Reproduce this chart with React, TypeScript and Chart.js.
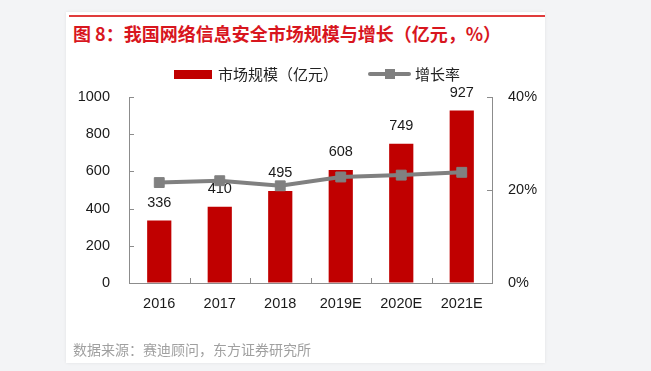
import React, { useEffect, useRef } from "react";
import { Chart, registerables } from "chart.js";

Chart.register(...registerables);

const categories = ["2016", "2017", "2018", "2019E", "2020E", "2021E"];
const marketSize = [336, 410, 495, 608, 749, 927];
const growthRate = [21.6, 22.0, 20.9, 22.8, 23.2, 23.8];
const leftTicks = [0, 200, 400, 600, 800, 1000];
const rightTicks = [0, 20, 40];

const titleText = "图 8：我国网络信息安全市场规模与增长（亿元，%）";
const barLabel = "市场规模（亿元）";
const lineLabel = "增长率";
const sourceText = "数据来源：赛迪顾问，东方证券研究所";

const BAR_COLOR = "#c00000";
const LINE_COLOR = "#808080";
const AXIS_COLOR = "#8c8c8c";
const NUM_FONT = "'Liberation Sans', Arial, sans-serif";
const CJK_FONT = "'Noto Sans CJK SC', 'Noto Sans', sans-serif";
const NUM_SIZE = 14.5;

const CW = 479;
const CH = 351;

export default function App() {
  const ref = useRef<HTMLCanvasElement | null>(null);

  useEffect(() => {
    const canvas = ref.current;
    if (!canvas) return;

    const valueLabels = {
      id: "valueLabels",
      afterDatasetDraw(chart: any, args: any) {
        if (args.index !== 1) return;
        const ctx = chart.ctx;
        const meta = chart.getDatasetMeta(1);
        ctx.save();
        ctx.font = `${NUM_SIZE}px ${NUM_FONT}`;
        ctx.fillStyle = "#1a1a1a";
        ctx.textAlign = "center";
        ctx.textBaseline = "middle";
        meta.data.forEach((el: any, i: number) => {
          ctx.fillText(String(marketSize[i]), el.x, el.y - 18);
        });
        ctx.restore();
      },
    };

    const innerTicks = {
      id: "innerTicks",
      afterDraw(chart: any) {
        const ctx = chart.ctx;
        const { left, right, bottom } = chart.chartArea;
        const y = chart.scales.y;
        const y1 = chart.scales.y1;
        const n = categories.length;
        ctx.save();
        ctx.strokeStyle = AXIS_COLOR;
        ctx.lineWidth = 1;
        ctx.beginPath();
        leftTicks.forEach((v) => {
          const py = Math.round(y.getPixelForValue(v)) + 0.5;
          ctx.moveTo(left, py);
          ctx.lineTo(left + 5, py);
        });
        rightTicks.forEach((v) => {
          const py = Math.round(y1.getPixelForValue(v)) + 0.5;
          ctx.moveTo(right - 5, py);
          ctx.lineTo(right, py);
        });
        for (let i = 0; i <= n; i++) {
          const px = Math.round(left + ((right - left) * i) / n) + 0.5;
          ctx.moveTo(px, bottom);
          ctx.lineTo(px, bottom - 5);
        }
        ctx.stroke();
        ctx.restore();
      },
    };

    const chart = new Chart(canvas, {
      type: "bar",
      data: {
        labels: categories,
        datasets: [
          {
            type: "line",
            label: lineLabel,
            data: growthRate,
            yAxisID: "y1",
            borderColor: LINE_COLOR,
            backgroundColor: LINE_COLOR,
            borderWidth: 4,
            pointStyle: "rect",
            pointRadius: 7,
            pointBorderWidth: 1,
            pointBackgroundColor: LINE_COLOR,
            pointBorderColor: LINE_COLOR,
            tension: 0,
            order: 0,
          } as any,
          {
            type: "bar",
            label: barLabel,
            data: marketSize,
            yAxisID: "y",
            backgroundColor: BAR_COLOR,
            borderWidth: 0,
            barPercentage: 0.4,
            categoryPercentage: 1,
            order: 1,
          },
        ],
      },
      options: {
        responsive: false,
        animation: false,
        devicePixelRatio: 1,
        layout: { padding: { top: 85, left: 0, right: 0, bottom: 50 } },
        plugins: {
          legend: { display: false },
          tooltip: { enabled: false },
        },
        scales: {
          x: {
            offset: true,
            grid: { display: true, drawOnChartArea: false, drawTicks: false, offset: true },
            border: { display: true, color: AXIS_COLOR, width: 1 },
            ticks: { color: "#1a1a1a", font: { size: NUM_SIZE, family: NUM_FONT }, padding: 12, maxRotation: 0 },
            afterFit: (s: any) => {
              s.height = 30;
            },
          },
          y: {
            position: "left",
            min: 0,
            max: 1000,
            grid: { drawOnChartArea: false, drawTicks: false },
            border: { display: true, color: AXIS_COLOR, width: 1 },
            ticks: {
              stepSize: 200,
              color: "#1a1a1a",
              font: { size: NUM_SIZE, family: NUM_FONT },
              padding: 19,
              callback: (v: any) => String(v),
            },
            afterFit: (s: any) => {
              s.width = 63;
            },
          },
          y1: {
            position: "right",
            min: 0,
            max: 40,
            grid: { drawOnChartArea: false, drawTicks: false },
            border: { display: true, color: AXIS_COLOR, width: 1 },
            ticks: {
              stepSize: 20,
              color: "#1a1a1a",
              font: { size: NUM_SIZE, family: NUM_FONT },
              padding: 16,
              callback: (v: any) => `${v}%`,
            },
            afterFit: (s: any) => {
              s.width = 53;
            },
          },
        },
      },
      plugins: [valueLabels, innerTicks],
    });

    return () => chart.destroy();
  }, []);

  return (
    <div style={{ position: "fixed", left: 0, top: 0, width: 651, height: 371, background: "#f3f4f6", overflow: "hidden" }}>
      <div
        style={{
          position: "absolute",
          left: 66,
          top: 12,
          width: CW,
          height: CH,
          background: "#ffffff",
          boxShadow: "0 0 3px rgba(0,0,0,0.08)",
        }}
      >
        <div style={{ position: "absolute", left: 3, top: 3, width: 476, height: 2, background: "#e03c3c" }} />
        <div
          style={{
            position: "absolute",
            left: 7,
            top: 11,
            fontFamily: CJK_FONT,
            fontWeight: 700,
            fontSize: 18,
            lineHeight: "20px",
            color: "#d8161e",
            whiteSpace: "nowrap",
          }}
        >
          {titleText}
        </div>
        <canvas ref={ref} width={CW} height={CH} style={{ position: "absolute", left: 0, top: 0, width: CW, height: CH }} />
        <div style={{ position: "absolute", left: 108, top: 58, width: 38, height: 9, background: BAR_COLOR }} />
        <div
          style={{
            position: "absolute",
            left: 152,
            top: 52,
            fontFamily: CJK_FONT,
            fontSize: 15,
            lineHeight: "20px",
            color: "#222",
            whiteSpace: "nowrap",
          }}
        >
          {barLabel}
        </div>
        <div style={{ position: "absolute", left: 302, top: 60, width: 43, height: 4, background: LINE_COLOR, borderRadius: 2 }} />
        <div style={{ position: "absolute", left: 319, top: 57, width: 10, height: 10, background: LINE_COLOR }} />
        <div
          style={{
            position: "absolute",
            left: 349,
            top: 52,
            fontFamily: CJK_FONT,
            fontSize: 15,
            lineHeight: "20px",
            color: "#222",
            whiteSpace: "nowrap",
          }}
        >
          {lineLabel}
        </div>
        <div
          style={{
            position: "absolute",
            left: 7,
            top: 327,
            fontFamily: CJK_FONT,
            fontSize: 14,
            lineHeight: "20px",
            color: "#a0a0a0",
            whiteSpace: "nowrap",
          }}
        >
          {sourceText}
        </div>
      </div>
    </div>
  );
}
